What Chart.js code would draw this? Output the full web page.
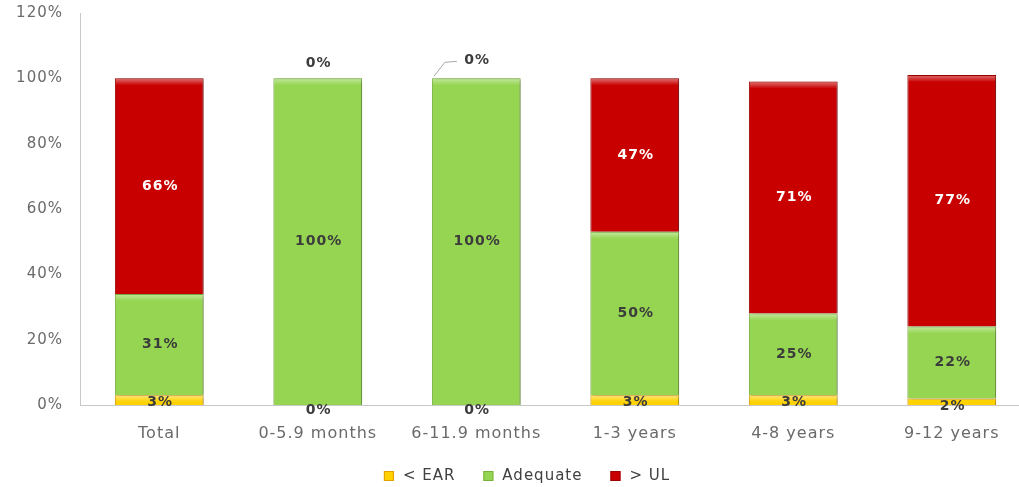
<!DOCTYPE html>
<html>
<head>
<meta charset="utf-8">
<script src="https://cdn.jsdelivr.net/npm/chart.js@4.4.1/dist/chart.umd.min.js"></script>
<style>
  html, body { margin: 0; padding: 0; background: #fff; overflow: hidden; }
  #wrap { width: 1054px; height: 487px; }
</style>
</head>
<body>
<div id="wrap"><canvas id="grafico"></canvas></div>
<script>
// categorias e séries (%)
const faixas = ['Total', '0-5.9 months', '6-11.9 months', '1-3 years', '4-8 years', '9-12 years'];
const abaixoEAR = [3, 0, 0, 3, 3, 2];
const adequado = [31, 100, 100, 50, 25, 22];
const acimaUL = [66, 0, 0, 47, 71, 77];
const ticksY = [0, 20, 40, 60, 80, 100, 120];

const FONTE = '"DejaVu Sans", Verdana, sans-serif';

const cores = {
    ear: '#FFD200',
    earBorda: '#E0A000',
    adequado: '#95D552',
    adequadoBorda: '#78B43C',
    ul: '#C80000',
    ulBorda: '#9E0000'
};

// espaçamento entre letras (o canvas perde o estado a cada resize)
const espacamento = {
    id: 'espacamento',
    beforeLayout(chart) { chart.ctx.letterSpacing = '1px'; },
    beforeDraw(chart) { chart.ctx.letterSpacing = '1px'; }
};

// sombra leve atrás das barras
const sombraBarras = {
    id: 'sombraBarras',
    beforeDatasetsDraw(chart) {
        const ctx = chart.ctx;
        ctx.save();
        ctx.shadowColor = 'rgba(0,0,0,0.35)';
        ctx.shadowBlur = 4;
        ctx.shadowOffsetX = 2;
        ctx.shadowOffsetY = 1;
    },
    afterDatasetsDraw(chart) {
        chart.ctx.restore();
    }
};

// brilho no topo de cada segmento (efeito chanfrado)
const brilho = {
    id: 'brilho',
    afterDatasetsDraw(chart) {
        const ctx = chart.ctx;
        ctx.save();
        chart.data.datasets.forEach((ds, i) => {
            chart.getDatasetMeta(i).data.forEach((bar, j) => {
                const h = bar.base - bar.y;
                if (ds.data[j] === 0 || h < 8) return;
                const x0 = bar.x - bar.width / 2 + 1;
                const w = bar.width - 2;
                const g = ctx.createLinearGradient(0, bar.y, 0, bar.y + 7);
                g.addColorStop(0, 'rgba(255,255,255,0.45)');
                g.addColorStop(1, 'rgba(255,255,255,0)');
                ctx.fillStyle = g;
                ctx.fillRect(x0, bar.y + 1, w, 7);
            });
        });
        ctx.restore();
    }
};

// rótulos de valor em cada segmento
const rotulos = {
    id: 'rotulos',
    afterDatasetsDraw(chart) {
        const ctx = chart.ctx;
        ctx.save();
        ctx.letterSpacing = '1px';
        ctx.font = 'bold 14px ' + FONTE;
        ctx.textAlign = 'center';
        ctx.textBaseline = 'middle';
        chart.data.datasets.forEach((ds, i) => {
            const meta = chart.getDatasetMeta(i);
            meta.data.forEach((bar, j) => {
                const v = ds.data[j];
                let x = bar.x + 1;
                let y = (bar.y + bar.base) / 2;
                ctx.fillStyle = i === 2 ? '#FFFFFF' : '#3C3C3C';
                if (i === 0) {
                    y = (bar.y + bar.base) / 2 + (v < 3 ? 5 : 2);
                }
                if (i === 2 && v === 0) {
                    ctx.fillStyle = '#3C3C3C';
                    if (j === 2) {
                        // linha de chamada até o rótulo
                        const x0 = bar.x - bar.width / 2 + 2;
                        ctx.strokeStyle = '#A8A8A8';
                        ctx.lineWidth = 1;
                        ctx.beginPath();
                        ctx.moveTo(x0, bar.y - 2);
                        ctx.lineTo(x0 + 11, bar.y - 16);
                        ctx.lineTo(x0 + 23, bar.y - 17);
                        ctx.stroke();
                        y = bar.y - 18;
                    } else {
                        y = bar.y - 15;
                    }
                }
                ctx.fillText(v + '%', x, y);
            });
        });
        ctx.restore();
    }
};

// legenda desenhada à mão para controlar espaçamentos
const legenda = {
    id: 'legenda',
    afterDraw(chart) {
        const ctx = chart.ctx;
        ctx.save();
        ctx.letterSpacing = '1px';
        ctx.font = '15px ' + FONTE;
        ctx.textBaseline = 'middle';
        const caixa = 10, gapTexto = 9, gapItem = 28;
        const itens = chart.data.datasets.map(ds => ({
            texto: ds.label,
            cor: ds.backgroundColor,
            borda: ds.borderColor,
            w: ctx.measureText(ds.label).width
        }));
        const total = itens.reduce((s, it) => s + caixa + gapTexto + it.w, 0) + gapItem * (itens.length - 1);
        let x = chart.width / 2 - total / 2;
        const y = 476;
        itens.forEach(it => {
            ctx.fillStyle = it.cor;
            ctx.fillRect(x, y - caixa / 2, caixa, caixa);
            ctx.strokeStyle = it.borda;
            ctx.lineWidth = 1;
            ctx.strokeRect(x + 0.5, y - caixa / 2 + 0.5, caixa - 1, caixa - 1);
            ctx.fillStyle = '#404040';
            ctx.fillText(it.texto, x + caixa + gapTexto, y);
            x += caixa + gapTexto + it.w + gapItem;
        });
        ctx.restore();
    }
};

const ctx = document.getElementById('grafico').getContext('2d');
new Chart(ctx, {
    type: 'bar',
    data: {
        labels: faixas,
        datasets: [
            {
                label: '< EAR',
                data: abaixoEAR,
                backgroundColor: cores.ear,
                borderColor: cores.earBorda,
                borderWidth: 1
            },
            {
                label: 'Adequate',
                data: adequado,
                backgroundColor: cores.adequado,
                borderColor: cores.adequadoBorda,
                borderWidth: 1
            },
            {
                label: '> UL',
                data: acimaUL,
                backgroundColor: cores.ul,
                borderColor: cores.ulBorda,
                borderWidth: 1
            }
        ]
    },
    options: {
        responsive: true,
        maintainAspectRatio: false,
        animation: false,
        layout: { padding: { top: 13, right: 23, left: 0, bottom: 45 } },
        datasets: {
            bar: { barPercentage: 0.56, categoryPercentage: 1 }
        },
        scales: {
            x: {
                stacked: true,
                grid: { display: false, drawTicks: false },
                border: { color: '#C8C8C8' },
                afterFit(scale) { scale.height = 37; },
                ticks: {
                    padding: 19,
                    color: '#6A6A6A',
                    font: { family: FONTE, size: 16 }
                }
            },
            y: {
                stacked: true,
                min: 0,
                max: 120,
                grid: { display: false, drawTicks: false },
                border: { color: '#C8C8C8' },
                afterFit(scale) {
                    scale.width = 80;
                    scale.paddingTop = 0;
                    scale.paddingBottom = 0;
                },
                afterBuildTicks(scale) {
                    scale.ticks = ticksY.map(v => ({ value: v }));
                },
                ticks: {
                    padding: 17,
                    color: '#6A6A6A',
                    font: { family: FONTE, size: 15 },
                    callback: v => v + '%'
                }
            }
        },
        plugins: {
            legend: { display: false },
            tooltip: { enabled: false }
        }
    },
    plugins: [espacamento, sombraBarras, brilho, rotulos, legenda]
});
</script>
</body>
</html>
